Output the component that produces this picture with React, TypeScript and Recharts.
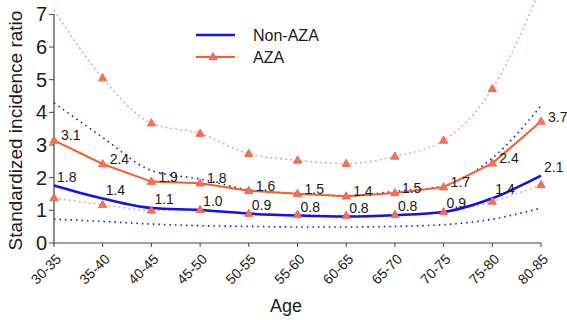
import React from 'react';
import { LineChart, Line, XAxis, YAxis, ReferenceLine, LabelList } from 'recharts';

const AGES = ['30-35', '35-40', '40-45', '45-50', '50-55', '55-60', '60-65', '65-70', '70-75', '75-80', '80-85'];
const NON_AZA = [1.76, 1.36, 1.07, 1.01, 0.9, 0.84, 0.81, 0.85, 0.95, 1.37, 2.06];
const NON_AZA_LO = [0.73, 0.66, 0.58, 0.53, 0.51, 0.49, 0.49, 0.51, 0.56, 0.73, 1.07];
const NON_AZA_HI = [4.29, 3.23, 2.22, 1.96, 1.63, 1.51, 1.45, 1.58, 1.75, 2.6, 4.2];
const AZA = [3.14, 2.42, 1.88, 1.83, 1.6, 1.51, 1.43, 1.53, 1.71, 2.44, 3.72];
const AZA_LO = [1.38, 1.17, 1.0, 1.02, 0.9, 0.87, 0.84, 0.87, 0.95, 1.27, 1.78];
const AZA_HI = [7.13, 5.05, 3.67, 3.35, 2.73, 2.53, 2.43, 2.65, 3.14, 4.72, 7.84];
const NON_AZA_LABELS = ['1.8', '1.4', '1.1', '1.0', '0.9', '0.8', '0.8', '0.8', '0.9', '1.4', '2.1'];
const AZA_LABELS = ['3.1', '2.4', '1.9', '1.8', '1.6', '1.5', '1.4', '1.5', '1.7', '2.4', '3.7'];
const Y_TICKS = [0, 1, 2, 3, 4, 5, 6, 7];

const data = AGES.map((age, i) => ({
  age,
  nonAza: NON_AZA[i],
  nonAzaLo: NON_AZA_LO[i],
  nonAzaHi: NON_AZA_HI[i],
  aza: AZA[i],
  azaLo: AZA_LO[i],
  azaHi: AZA_HI[i],
}));

const BLUE = '#1212ee';
const ORANGE = '#f0602e';
const TRI = '#f27157';
const TRI_STROKE = '#ee5f44';
const PINK = '#f6a0a0';
const AXIS = '#444';
const TEXT = '#1a1a1a';
const FONT = 'Liberation Sans, Arial, sans-serif';
const TOP_TICK = 7;

const triDot = (props: any) => {
  const { cx, cy, value, index } = props;
  if (cx == null || cy == null || value == null || value > TOP_TICK) return <g key={`t-${index}`} />;
  return (
    <path
      key={`t-${index}`}
      d={`M${cx},${cy - 4.5} L${cx + 4.2},${cy + 2.8} L${cx - 4.2},${cy + 2.8} Z`}
      fill={TRI}
      stroke={TRI_STROKE}
      strokeWidth={0.8}
    />
  );
};

const makeLabel = (labels: string[], dx: number, dy: number) => (props: any) => {
  const { x, y, index } = props;
  return (
    <text
      x={x + dx}
      y={y + dy}
      fontSize={14}
      fontFamily={FONT}
      fill={TEXT}
      textAnchor="start"
      dominantBaseline="central"
    >
      {labels[index]}
    </text>
  );
};

const XTick = (props: any) => {
  const { x, y, payload } = props;
  const ax = x + 8;
  const ay = y + 11;
  return (
    <text
      x={ax}
      y={ay}
      transform={`rotate(-45 ${ax} ${ay})`}
      textAnchor="end"
      fontSize={14}
      fontFamily={FONT}
      fill={TEXT}
    >
      {payload.value}
    </text>
  );
};

const YTitle = (props: any) => {
  const vb = props.viewBox || { x: 0, y: 0, width: 54, height: 243 };
  const cx = vb.x + 15;
  const cy = vb.y + vb.height / 2 + 9;
  return (
    <text
      x={cx}
      y={cy}
      transform={`rotate(-90 ${cx} ${cy})`}
      textAnchor="middle"
      dominantBaseline="central"
      fontSize={19}
      fontFamily={FONT}
      fill={TEXT}
    >
      Standardized incidence ratio
    </text>
  );
};

const XTitle = (props: any) => {
  const vb = props.viewBox || { x: 54, y: 243, width: 487, height: 77 };
  return (
    <text
      x={286}
      y={vb.y + 63}
      textAnchor="middle"
      dominantBaseline="central"
      fontSize={18}
      fontFamily={FONT}
      fill={TEXT}
    >
      Age
    </text>
  );
};

const LegendBox = () => (
  <svg width={160} height={50} style={{ position: 'absolute', left: 190, top: 20 }}>
    <line x1={6} y1={15} x2={45} y2={15} stroke={BLUE} strokeWidth={2.5} />
    <text x={63} y={15} fontSize={16} fontFamily={FONT} fill={TEXT} dominantBaseline="central">
      Non-AZA
    </text>
    <line x1={6} y1={37} x2={45} y2={37} stroke={ORANGE} strokeWidth={2} />
    <path d="M23,32.5 L27.2,39.8 L18.8,39.8 Z" fill={TRI} stroke={TRI_STROKE} strokeWidth={0.8} />
    <text x={63} y={37} fontSize={16} fontFamily={FONT} fill={TEXT} dominantBaseline="central">
      AZA
    </text>
  </svg>
);

export default function App() {
  return (
    <div style={{ position: 'absolute', left: 0, top: 0, width: 567, height: 320, background: '#fff' }}>
      <LineChart width={567} height={320} data={data} margin={{ top: 0, right: 26, bottom: 0, left: 0 }}>
        <XAxis
          dataKey="age"
          height={77}
          stroke={AXIS}
          tickSize={4}
          tick={<XTick />}
          interval={0}
          label={<XTitle />}
        />
        <YAxis
          width={54}
          domain={[0, 7.44]}
          allowDataOverflow
          ticks={Y_TICKS}
          axisLine={false}
          tickLine={{ stroke: AXIS }}
          tickSize={5}
          tick={{ fontSize: 20, fontFamily: FONT, fill: TEXT }}
          label={<YTitle />}
        />
        <ReferenceLine
          segment={[{ x: '30-35', y: 0 }, { x: '30-35', y: 7 }]}
          stroke={AXIS}
          strokeWidth={1.2}
        />
        <Line type="monotone" dataKey="nonAzaHi" stroke={BLUE} strokeWidth={1.6} strokeDasharray="1.5 4" dot={false} isAnimationActive={false} />
        <Line type="monotone" dataKey="nonAzaLo" stroke={BLUE} strokeWidth={1.6} strokeDasharray="1.5 4" dot={false} isAnimationActive={false} />
        <Line type="monotone" dataKey="azaHi" stroke={PINK} strokeWidth={1.5} strokeDasharray="2 3" dot={triDot} isAnimationActive={false} />
        <Line type="monotone" dataKey="azaLo" stroke={PINK} strokeWidth={1.5} strokeDasharray="2 3" dot={triDot} isAnimationActive={false} />
        <Line type="monotone" dataKey="nonAza" stroke={BLUE} strokeWidth={2.5} dot={false} isAnimationActive={false}>
          <LabelList dataKey="nonAza" content={makeLabel(NON_AZA_LABELS, 3, -9)} />
        </Line>
        <Line type="linear" dataKey="aza" stroke={ORANGE} strokeWidth={2} dot={triDot} isAnimationActive={false}>
          <LabelList dataKey="aza" content={makeLabel(AZA_LABELS, 7, -5)} />
        </Line>
      </LineChart>
      <LegendBox />
    </div>
  );
}
